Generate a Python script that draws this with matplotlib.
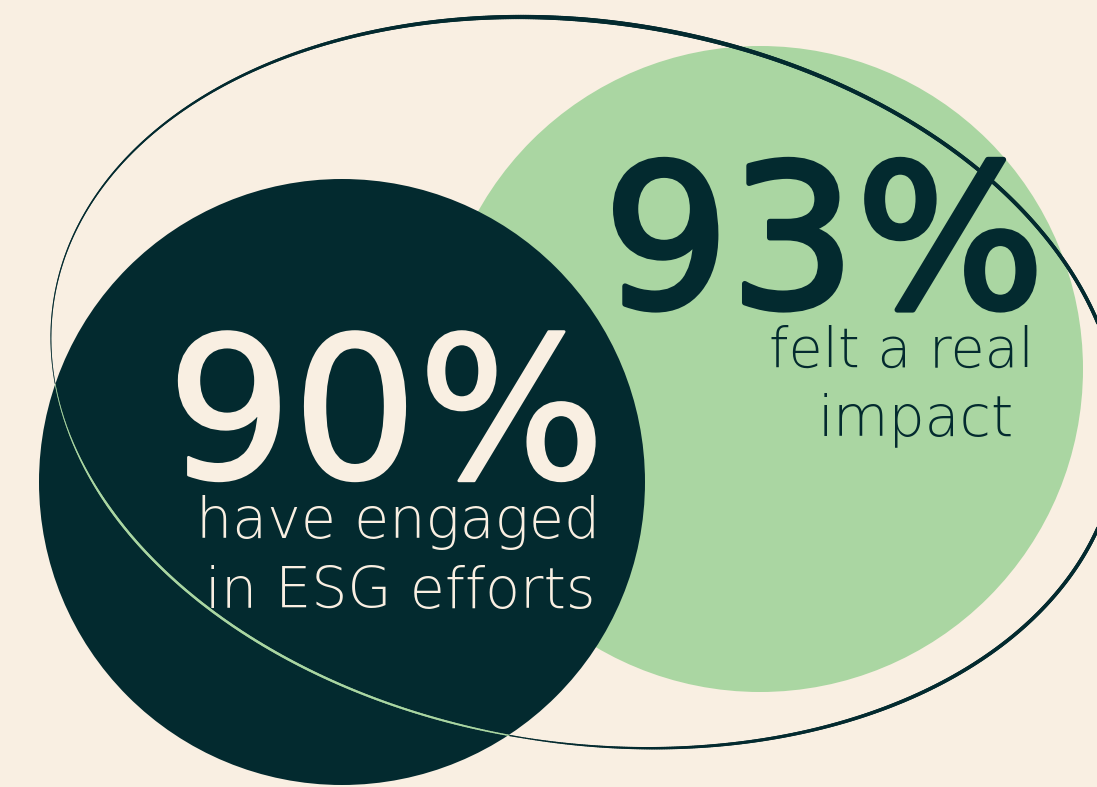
import numpy as np
import matplotlib
matplotlib.use("Agg")
import matplotlib.pyplot as plt
from matplotlib.patches import Circle
from matplotlib.collections import LineCollection
import matplotlib.patheffects as pe

# colours
bg = "#F9EFE2"
dark = "#032A2F"
green = "#AAD6A2"

# the two headline numbers and their captions
values = ["90%", "93%"]
captions = [["have engaged", "in ESG efforts"], ["felt a real", "impact"]]

# the two discs (pixels, y going down)
disc_x = [342, 760]
disc_y = [482, 369]
disc_r = [303, 323]

# points read along the thin loop round everything
ring_x = [48, 63, 90, 300, 400, 507, 600, 1000, 1067, 1097, 1083, 1033, 950, 850,
          750, 650, 510, 450, 197, 113, 73, 55]
ring_y = [327, 267, 200, 50, 30, 18, 22, 183, 260, 332, 550, 617, 677, 723,
          742, 749, 737, 722, 597, 500, 450, 395]


def fit_ellipse(x, y, n=2000):
    # plain algebraic conic fit, then back to a parametric loop
    x = np.asarray(x, float)
    y = np.asarray(y, float)
    mx, my, s = x.mean(), y.mean(), 500.0
    u = (x - mx) / s
    v = (y - my) / s
    D = np.column_stack([u * u, u * v, v * v, u, v, np.ones_like(u)])
    _, _, vt = np.linalg.svd(D)
    a, b, c, d, e, f = vt[-1]
    M = np.array([[a, b / 2], [b / 2, c]])
    ctr = np.linalg.solve(2 * M, [-d, -e])
    f0 = a * ctr[0] ** 2 + b * ctr[0] * ctr[1] + c * ctr[1] ** 2 + d * ctr[0] + e * ctr[1] + f
    lam, vec = np.linalg.eigh(M)
    ax_len = np.sqrt(-f0 / lam)
    t = np.linspace(0, 2 * np.pi, n)
    pts = (ctr[:, None] + vec[:, [0]] * ax_len[0] * np.cos(t)
           + vec[:, [1]] * ax_len[1] * np.sin(t))
    return pts[0] * s + mx, pts[1] * s + my, ctr[0] * s + mx, ctr[1] * s + my


fig = plt.figure(figsize=(10.97, 7.87), dpi=100)
fig.patch.set_facecolor(bg)
ax = fig.add_axes([0, 0, 1, 1])
ax.set_xlim(0, 1097)
ax.set_ylim(787, 0)
ax.axis("off")

# discs: green first, dark one on top
ax.add_patch(Circle((disc_x[1], disc_y[1]), disc_r[1], color=green, lw=0, zorder=1))
ax.add_patch(Circle((disc_x[0], disc_y[0]), disc_r[0], color=dark, lw=0, zorder=2))

# loop with a brush-like width
lx, ly, cx, cy = fit_ellipse(ring_x, ring_y)
pts = np.column_stack([lx, ly])
segs = np.stack([pts[:-1], pts[1:]], axis=1)
mid = segs.mean(axis=1)
ang = np.degrees(np.arctan2(mid[:, 1] - cy, mid[:, 0] - cx))
w_ang = [-180, -165, -150, -120, -90, -45, 0, 45, 70, 80, 100, 112, 140, 165, 175, 180]
w_px = [0.7, 1.3, 2.0, 3.6, 4.6, 4.0, 3.6, 3.6, 3.0, 2.4, 1.2, 2.0, 2.5, 2.4, 1.0, 0.7]
widths = np.interp(ang, w_ang, w_px) * 0.72
inside = np.hypot(mid[:, 0] - disc_x[0], mid[:, 1] - disc_y[0]) < disc_r[0]
cols = np.where(inside, green, dark)
lc = LineCollection(segs, colors=list(cols), linewidths=widths, capstyle="round", zorder=3)
ax.add_collection(lc)

font = "DejaVu Sans"

# left disc text
ax.text(386, 478, values[0], fontsize=142, color=bg, ha="center", va="baseline",
        family=font, zorder=4,
        path_effects=[pe.withStroke(linewidth=2, foreground=bg)])
ax.text(398, 538, captions[0][0], fontsize=41, color=bg, ha="center", va="baseline",
        family=font, fontweight="light", zorder=4)
ax.text(400, 608, captions[0][1], fontsize=41, color=bg, ha="center", va="baseline",
        family=font, fontweight="light", zorder=4)

# right disc text
ax.text(824, 307, values[1], fontsize=143, color=dark, ha="center", va="baseline",
        family=font, zorder=4,
        path_effects=[pe.withStroke(linewidth=4, foreground=dark)])
ax.text(901, 367, captions[1][0], fontsize=40, color=dark, ha="center", va="baseline",
        family=font, fontweight="light", zorder=4)
ax.text(916, 435, captions[1][1], fontsize=41, color=dark, ha="center", va="baseline",
        family=font, fontweight="light", zorder=4)

fig.savefig("out.png", dpi=100, facecolor=bg)
